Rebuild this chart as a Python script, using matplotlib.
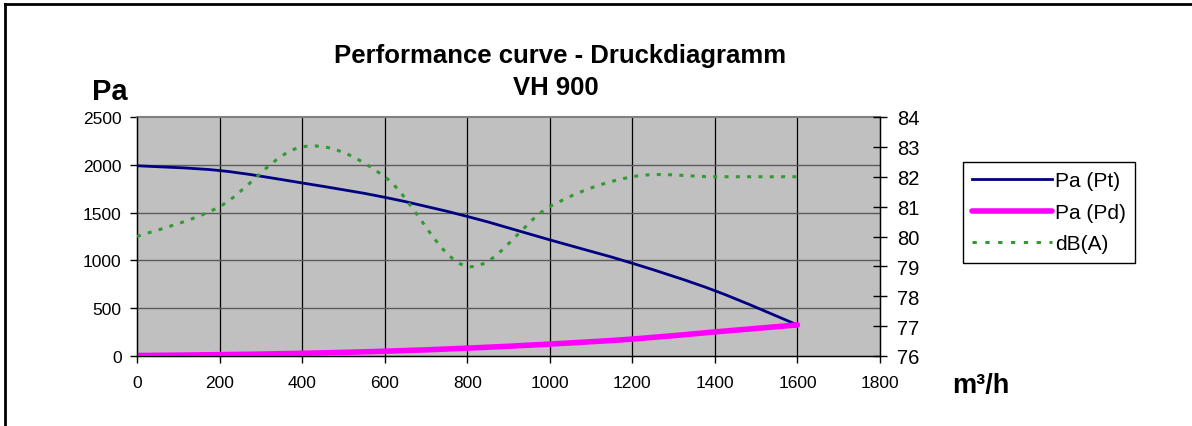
import matplotlib
matplotlib.use("Agg")
import matplotlib.pyplot as plt
from matplotlib.path import Path
from matplotlib.patches import PathPatch
from matplotlib.lines import Line2D
import numpy as np

plt.rcParams['font.family'] = ['Liberation Sans', 'DejaVu Sans']

# data (m3/h, Pa, dB(A))
flow = [0, 200, 400, 600, 800, 1000, 1200, 1400, 1600]
pa_pt = [1990, 1940, 1810, 1660, 1460, 1215, 970, 683, 325]
pa_pd = [5, 14, 28, 50, 82, 125, 177, 252, 325]
db_a = [80.0, 81.0, 83.0, 82.0, 79.0, 81.0, 82.0, 82.0, 82.0]

x_ticks = list(range(0, 1801, 200))
y_ticks = list(range(0, 2501, 500))
db_ticks = list(range(76, 85))


def smooth_path(xs, ys):
    # Excel-like smoothed line: Catmull-Rom segments as cubic Bezier
    p = np.column_stack([xs, ys]).astype(float)
    n = len(p)
    verts = [p[0]]
    codes = [Path.MOVETO]
    for i in range(n - 1):
        p0 = p[i - 1] if i > 0 else p[i]
        p1, p2 = p[i], p[i + 1]
        p3 = p[i + 2] if i + 2 < n else p[i + 1]
        c1 = p1 + (p2 - p0) / 6.0
        c2 = p2 - (p3 - p1) / 6.0
        verts += [c1, c2, p2]
        codes += [Path.CURVE4] * 3
    return Path(verts, codes)


fig = plt.figure(figsize=(11.92, 4.27), dpi=100)
ax = fig.add_axes([137 / 1192, 1 - 357 / 427, (880 - 137) / 1192, (357 - 118) / 427])
ax.set_facecolor('#C0C0C0')
ax.set_xlim(0, 1800)
ax.set_ylim(0, 2500)
ax.set_xticks(x_ticks)
ax.set_yticks(y_ticks)
for v in x_ticks[1:-1]:
    ax.axvline(v, color='black', lw=0.9, zorder=1)
for v in y_ticks[1:-1]:
    ax.axhline(v, color='#5a5a5a', lw=1.0, zorder=1)
ax.tick_params(axis='both', labelsize=12.5, direction='out', length=5, width=1)
ax.tick_params(axis='x', pad=9)
ax.tick_params(axis='y', pad=6)
ax.spines['top'].set_color('#808080')
ax.spines['top'].set_linewidth(1.5)
for s in ['left', 'bottom']:
    ax.spines[s].set_linewidth(1)

ax2 = ax.twinx()
ax2.set_ylim(76, 84)
ax2.set_yticks(db_ticks)
ax2.tick_params(axis='y', labelsize=14.5, direction='inout', length=10, width=1, pad=7)
ax2.spines['right'].set_linewidth(1)
ax2.spines['top'].set_visible(False)

ax.add_patch(PathPatch(smooth_path(flow, pa_pt), fill=False, edgecolor='#000080',
                       lw=2.0, zorder=3, capstyle='round'))
ax.add_patch(PathPatch(smooth_path(flow, pa_pd), fill=False, edgecolor='#FF00FF',
                       lw=4.0, zorder=3, capstyle='round'))
ax2.add_patch(PathPatch(smooth_path(flow, db_a), fill=False, edgecolor='#339933',
                        lw=2.2, linestyle=(0, (1.3, 2.4)), zorder=3))

fig.text(560 / 1192, 1 - 56 / 427, 'Performance curve - Druckdiagramm', ha='center',
         va='center', fontsize=18.5, fontweight='bold')
fig.text(556 / 1192, 1 - 88 / 427, 'VH 900', ha='center', va='center',
         fontsize=18.5, fontweight='bold')
fig.text(110 / 1192, 1 - 92 / 427, 'Pa', ha='center', va='center',
         fontsize=21, fontweight='bold')
fig.text(981 / 1192, 1 - 386 / 427, 'm³/h', ha='center', va='center',
         fontsize=19.5, fontweight='bold')

handles = [
    Line2D([], [], color='#000080', lw=2.0),
    Line2D([], [], color='#FF00FF', lw=4.0, solid_capstyle='round'),
    Line2D([], [], color='#339933', lw=2.2, linestyle=(0, (1.4, 2.8))),
]
leg = fig.legend(handles, ['Pa (Pt)', 'Pa (Pd)', 'dB(A)'], loc='upper left',
                 bbox_to_anchor=(963 / 1192, 1 - 163 / 427), bbox_transform=fig.transFigure,
                 fontsize=15, frameon=True, fancybox=False, framealpha=1,
                 edgecolor='black', handlelength=3.8, handletextpad=0.15,
                 borderpad=0.45, labelspacing=0.6, borderaxespad=0)
leg.get_frame().set_linewidth(1)

# outer frame (top and left edges visible)
fig.add_artist(Line2D([4.5 / 1192, 1], [1 - 4.5 / 427, 1 - 4.5 / 427],
                      transform=fig.transFigure, color='black', lw=2))
fig.add_artist(Line2D([4.5 / 1192, 4.5 / 1192], [0, 1 - 4.5 / 427],
                      transform=fig.transFigure, color='black', lw=2))

fig.savefig('out.png', dpi=100)
